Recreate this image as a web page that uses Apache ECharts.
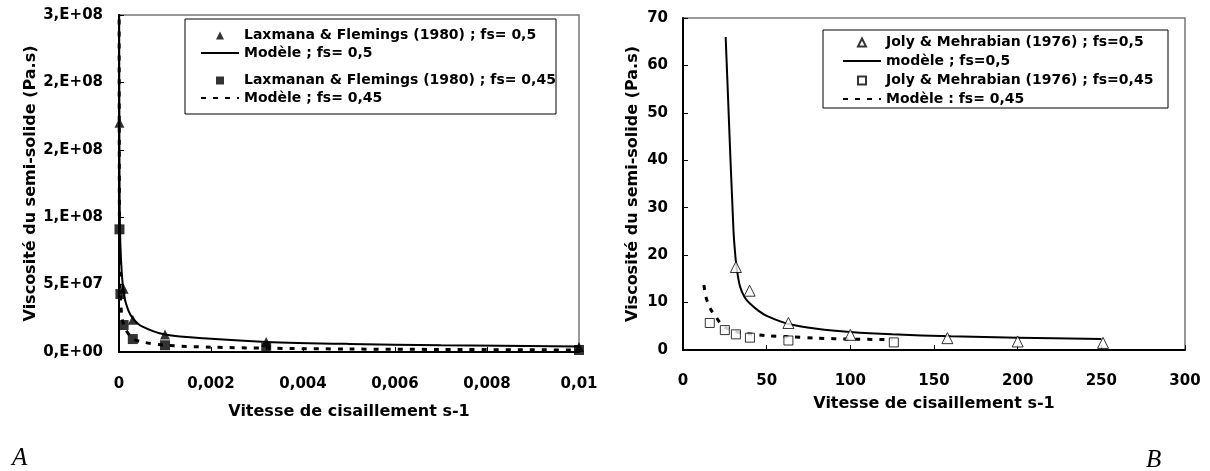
<!DOCTYPE html>
<html>
<head>
<meta charset="utf-8">
<script src="https://cdn.jsdelivr.net/npm/echarts@6/dist/echarts.min.js"></script>
<style>
html,body{margin:0;padding:0;background:#fff;}
#c{width:1210px;height:471px;}
</style>
</head>
<body>
<div id="c"></div>
<script>
// ---------- Data: chart A (left) ----------
var leftXTickLabels = ["0", "0,002", "0,004", "0,006", "0,008", "0,01"];
var leftYTickLabels = ["0,E+00", "5,E+07", "1,E+08", "2,E+08", "2,E+08", "3,E+08"];

var laxTriX = [0.00001, 0.0001, 0.0003, 0.001, 0.0032, 0.01];
var laxTriY = [1.7e8, 4.7e7, 2.4e7, 1.3e7, 7.4e6, 3.8e6];

var laxSqX = [0.00001, 0.00003, 0.0001, 0.0003, 0.001, 0.0032, 0.01];
var laxSqY = [9.1e7, 4.3e7, 2.0e7, 9.6e6, 5.0e6, 3.0e6, 1.5e6];

var modA05X = [0.000002, 0.00001, 0.00003, 0.0001, 0.0002, 0.0003, 0.0005, 0.001, 0.002, 0.0032, 0.005, 0.007, 0.01];
var modA05Y = [3.2e8, 1.4e8, 8.0e7, 4.4e7, 3.1e7, 2.5e7, 1.9e7, 1.3e7, 9.8e6, 7.5e6, 6.0e6, 5.0e6, 4.1e6];

var modA045X = [0.000002, 0.00001, 0.00003, 0.0001, 0.0003, 0.0005, 0.001, 0.002, 0.0032, 0.005, 0.007, 0.01];
var modA045Y = [3.0e8, 9.0e7, 4.3e7, 2.0e7, 1.0e7, 7.5e6, 5.0e6, 3.6e6, 2.8e6, 2.2e6, 1.9e6, 1.5e6];

// ---------- Data: chart B (right) ----------
var jolyTriX = [31.6, 39.8, 63, 100, 158, 200, 251];
var jolyTriY = [17.5, 12.5, 5.7, 3.2, 2.5, 1.8, 1.5];

var jolySqX = [16, 25, 31.6, 40, 63, 126];
var jolySqY = [5.7, 4.2, 3.3, 2.6, 2.0, 1.6];

var modB05X = [25.5, 26.5, 27.5, 28.5, 29.4, 30.2, 31, 32, 34, 37, 40, 45, 50, 63, 80, 100, 125, 160, 200, 250];
var modB05Y = [66, 57, 48, 39, 31.6, 25, 21, 17.5, 13.5, 11, 9.8, 8.3, 7.2, 5.5, 4.5, 3.8, 3.3, 2.9, 2.6, 2.3];

var modB045X = [12.5, 13.5, 15, 17, 19, 22, 25, 30, 35, 40, 50, 63, 80, 100, 125];
var modB045Y = [13.7, 11.5, 9.8, 8.3, 7.4, 5.8, 4.8, 4.0, 3.6, 3.4, 3.0, 2.8, 2.5, 2.3, 2.2];

var names = {
  a1: "Laxmana & Flemings (1980) ; fs= 0,5",
  a2: "Modèle ; fs= 0,5",
  a3: "Laxmanan & Flemings (1980) ; fs= 0,45",
  a4: "Modèle ; fs= 0,45",
  b1: "Joly & Mehrabian (1976) ; fs=0,5",
  b2: "modèle ; fs=0,5",
  b3: "Joly & Mehrabian (1976) ; fs=0,45",
  b4: "Modèle : fs= 0,45"
};

function zip(xs, ys) { return xs.map(function (x, i) { return [x, ys[i]]; }); }

var FONT = "DejaVu Sans";
var black = "#000";

// legend icon shapes (padded to the 38x9 legend box so they keep their aspect)
var triIcon = "path://M0,0 M38,9 M15,9 L19,1 L23,9 Z";
var sqIcon = "path://M0,0 M38,9 M15,1 L23,1 L23,9 L15,9 Z";
var hideSym = { color: "rgba(0,0,0,0)", borderWidth: 0, borderColor: "rgba(0,0,0,0)" };

function axisCommon() {
  return {
    axisLine: { show: true, onZero: false, lineStyle: { color: black, width: 2 } },
    axisTick: { show: true, inside: true, length: 5, lineStyle: { color: black, width: 1 } },
    splitLine: { show: false },
    nameTextStyle: { fontFamily: FONT, fontWeight: "bold", fontSize: 16, color: black },
    axisLabel: { fontFamily: FONT, fontWeight: "bold", fontSize: 15, color: black }
  };
}

function mk(extra) {
  var base = axisCommon();
  for (var k in extra) {
    if (typeof extra[k] === "object" && base[k] && !Array.isArray(extra[k])) {
      for (var j in extra[k]) base[k][j] = extra[k][j];
    } else base[k] = extra[k];
  }
  return base;
}

var legendText = { fontFamily: FONT, fontWeight: "bold", fontSize: 14, color: black, lineHeight: 16 };
var dashPattern = [5, 7];

var option = {
  backgroundColor: "#fff",
  animation: false,
  title: [
    { text: "A", left: 7, top: 441, textStyle: { fontFamily: "Liberation Serif", fontStyle: "italic", fontWeight: "normal", fontSize: 25, color: black } },
    { text: "B", left: 1141, top: 443, textStyle: { fontFamily: "Liberation Serif", fontStyle: "italic", fontWeight: "normal", fontSize: 25, color: black } }
  ],
  grid: [
    { left: 119, top: 15, width: 460, height: 337, show: true, borderColor: "#777", borderWidth: 1.5 },
    { left: 683, top: 18, width: 502, height: 332, show: true, borderColor: "#777", borderWidth: 1.5 }
  ],
  xAxis: [
    mk({
      gridIndex: 0, type: "value", min: 0, max: 0.01, interval: 0.002,
      name: "Vitesse de cisaillement s-1", nameLocation: "middle", nameGap: 52,
      axisLabel: { margin: 25, formatter: function (v) { return leftXTickLabels[Math.round(v / 0.002)]; } }
    }),
    mk({
      gridIndex: 1, type: "value", min: 0, max: 300, interval: 50,
      name: "Vitesse de cisaillement s-1", nameLocation: "middle", nameGap: 46,
      axisLabel: { margin: 24 }
    })
  ],
  yAxis: [
    mk({
      gridIndex: 0, type: "value", min: 0, max: 2.5e8, interval: 5e7,
      name: "Viscosité du semi-solide (Pa.s)", nameLocation: "middle", nameGap: 79,
      axisLabel: { margin: 16, formatter: function (v) { return leftYTickLabels[Math.round(v / 5e7)]; } }
    }),
    mk({
      gridIndex: 1, type: "value", min: 0, max: 70, interval: 10,
      name: "Viscosité du semi-solide (Pa.s)", nameLocation: "middle", nameGap: 42,
      axisLabel: { margin: 15 }
    })
  ],
  legend: [
    { data: [{ name: names.a1, icon: triIcon }, { name: names.a2, itemStyle: hideSym }],
      orient: "vertical", left: 200, top: 27, padding: 0, itemGap: 2, itemWidth: 38, itemHeight: 9, textStyle: legendText, selectedMode: false, z: 5 },
    { data: [{ name: names.a3, icon: sqIcon }, { name: names.a4, itemStyle: hideSym }],
      orient: "vertical", left: 200, top: 72, padding: 0, itemGap: 2, itemWidth: 38, itemHeight: 9, textStyle: legendText, selectedMode: false, z: 5 },
    { data: [{ name: names.b1, icon: triIcon }, { name: names.b2, itemStyle: hideSym }, { name: names.b3, icon: sqIcon }, { name: names.b4, itemStyle: hideSym }],
      orient: "vertical", left: 842, top: 34, padding: 0, itemGap: 3, itemWidth: 38, itemHeight: 9, textStyle: legendText, selectedMode: false, z: 5 }
  ],
  graphic: [
    { type: "rect", z: 3, shape: { x: 185, y: 19, width: 371, height: 95 }, style: { fill: "#fff", stroke: black, lineWidth: 1 } },
    { type: "rect", z: 3, shape: { x: 823, y: 30, width: 345, height: 78 }, style: { fill: "#fff", stroke: black, lineWidth: 1 } }
  ],
  series: [
    { name: names.a1, type: "scatter", xAxisIndex: 0, yAxisIndex: 0, symbol: "triangle", symbolSize: 10,
      itemStyle: { color: black }, data: zip(laxTriX, laxTriY), z: 4 },
    { name: names.a2, type: "line", xAxisIndex: 0, yAxisIndex: 0, symbol: "none", smooth: 0.3,
      lineStyle: { color: black, width: 2 }, itemStyle: { color: black }, data: zip(modA05X, modA05Y), z: 3 },
    { name: names.a3, type: "scatter", xAxisIndex: 0, yAxisIndex: 0, symbol: "rect", symbolSize: 10,
      itemStyle: { color: black }, data: zip(laxSqX, laxSqY), z: 4 },
    { name: names.a4, type: "line", xAxisIndex: 0, yAxisIndex: 0, symbol: "none", smooth: 0.3,
      lineStyle: { color: black, width: 3, type: dashPattern }, itemStyle: { color: black }, data: zip(modA045X, modA045Y), z: 3 },

    { name: names.b1, type: "scatter", xAxisIndex: 1, yAxisIndex: 1, symbol: "triangle", symbolSize: 11,
      itemStyle: { color: "#fff", borderColor: black, borderWidth: 1 }, data: zip(jolyTriX, jolyTriY), z: 4 },
    { name: names.b2, type: "line", xAxisIndex: 1, yAxisIndex: 1, symbol: "none", smooth: 0.3,
      lineStyle: { color: black, width: 2 }, itemStyle: { color: black }, data: zip(modB05X, modB05Y), z: 3 },
    { name: names.b3, type: "scatter", xAxisIndex: 1, yAxisIndex: 1, symbol: "rect", symbolSize: 9,
      itemStyle: { color: "#fff", borderColor: black, borderWidth: 1 }, data: zip(jolySqX, jolySqY), z: 4 },
    { name: names.b4, type: "line", xAxisIndex: 1, yAxisIndex: 1, symbol: "none", smooth: 0.3,
      lineStyle: { color: black, width: 3, type: dashPattern }, itemStyle: { color: black }, data: zip(modB045X, modB045Y), z: 3 }
  ]
};

var chart = echarts.init(document.getElementById("c"), null, { renderer: "canvas" });
chart.setOption(option);
</script>
</body>
</html>
